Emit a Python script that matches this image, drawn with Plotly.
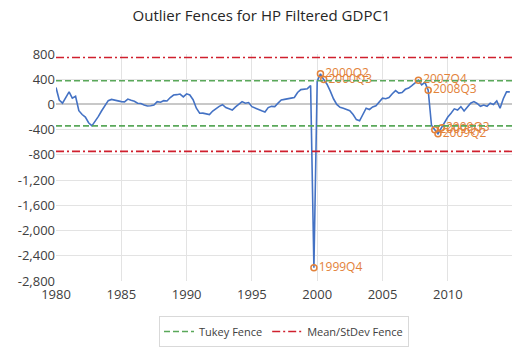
import pandas as pd
import plotly.graph_objects as go

# ---- data ----
start_quarter = "1980Q1"
end_quarter = "2014Q4"
hp_gap = [
    270, 70, 20, 110,          # 1980
    200, 100, 130, -100,       # 1981
    -160, -200, -290, -340,    # 1982
    -270, -190, -100, -20,     # 1983
    60, 80, 65, 55,            # 1984
    45, 40, 85, 65,            # 1985
    50, 20, 15, -10,           # 1986
    -25, -20, -10, 45,         # 1987
    35, 60, 55, 110,           # 1988
    150, 155, 165, 120,        # 1989
    168, 150, 75, -60,         # 1990
    -140, -138, -150, -160,    # 1991
    -105, -65, -30, -5,        # 1992
    -50, -70, -90, -40,        # 1993
    10, 45, 20, 30,            # 1994
    -35, -60, -80, -100,       # 1995
    -120, -50, -30, -35,       # 1996
    20, 70, 80, 85,            # 1997
    100, 110, 190, 235,        # 1998
    245, 250, 300, -2590,      # 1999
    370, 486, 395, 320,        # 2000
    210, 90, 0, -45,           # 2001
    -60, -75, -100, -160,      # 2002
    -240, -260, -160, -60,     # 2003
    -80, -40, -20, 40,         # 2004
    100, 90, 110, 170,         # 2005
    220, 180, 190, 240,        # 2006
    260, 300, 340, 385,        # 2007
    310, 350, 225, -330,       # 2008
    -400, -465, -375, -280,    # 2009
    -200, -140, -70, -90,      # 2010
    -35, -105, -50, 20,        # 2011
    45, 15, -30, -10,          # 2012
    -30, 20, 0, 57,            # 2013
    -60, 90, 200, 200,         # 2014
]
outlier_labels = ["1999Q4", "2000Q2", "2000Q3", "2007Q4", "2008Q3",
                  "2009Q1", "2009Q2", "2009Q3"]
tukey_fence = [375, -340]
mean_sd_fence = [745, -745]
y_tick_vals = [800, 400, 0, -400, -800, -1200, -1600, -2000, -2400, -2800]
y_tick_text = ["800", "400", "0", "-400", "-800", "-1,200", "-1,600",
               "-2,000", "-2,400", "-2,800"]
x_tick_years = [1980, 1985, 1990, 1995, 2000, 2005, 2010]

# ---- build ----
periods = pd.period_range(start_quarter, end_quarter, freq="Q")
labels = [f"{p.year}Q{p.quarter}" for p in periods]
dates = [p.start_time for p in periods]
lookup = dict(zip(labels, zip(dates, hp_gap)))

x_lo = pd.Timestamp("1980-01-01")
x_hi = pd.Timestamp("2014-12-01")

font_family = "Open Sans, Liberation Sans, sans-serif"
fig = go.Figure()

fig.add_trace(go.Scatter(x=dates, y=hp_gap, mode="lines",
                         line=dict(color="#4472C4", width=1.6),
                         showlegend=False, hoverinfo="skip"))

fig.add_trace(go.Scatter(
    x=[lookup[l][0] for l in outlier_labels],
    y=[lookup[l][1] for l in outlier_labels],
    mode="markers+text", text=outlier_labels, textposition="middle right",
    textfont=dict(color="#E3823A", size=12, family=font_family),
    marker=dict(symbol="circle-open", size=6, color="#E3823A",
                line=dict(width=1.5)),
    showlegend=False, hoverinfo="skip"))

for i, v in enumerate(tukey_fence):
    fig.add_trace(go.Scatter(x=[x_lo, x_hi], y=[v, v], mode="lines",
                             line=dict(color="#5AA85A", width=1.6, dash="6px,3px"),
                             name="Tukey Fence", legendgroup="tukey",
                             showlegend=(i == 0), hoverinfo="skip"))
for i, v in enumerate(mean_sd_fence):
    fig.add_trace(go.Scatter(x=[x_lo, x_hi], y=[v, v], mode="lines",
                             line=dict(color="#D0202E", width=1.6, dash="8px,3px,2px,3px"),
                             name="Mean/StDev Fence", legendgroup="msd",
                             showlegend=(i == 0), hoverinfo="skip"))

fig.update_layout(
    width=523, height=356,
    margin=dict(l=56, r=11, t=54, b=75),
    paper_bgcolor="white", plot_bgcolor="white",
    font=dict(family=font_family, color="#404040", size=12),
    title=dict(text="Outlier Fences for HP Filtered GDPC1",
               x=0.5, xanchor="center", y=1 - 16 / 356, yanchor="middle",
               font=dict(size=15, color="#262626", family=font_family)),
    legend=dict(orientation="h", x=0.5, xanchor="center",
                yref="container", y=1 - 316 / 356, yanchor="top",
                bordercolor="#D9D9D9", borderwidth=1,
                font=dict(size=11, color="#404040"),
                itemwidth=30),
    xaxis=dict(type="date", range=[x_lo, x_hi],
               tickvals=[pd.Timestamp(f"{y}-01-01") for y in x_tick_years],
               ticktext=[str(y) for y in x_tick_years],
               showgrid=True, gridcolor="#E3E3E3", gridwidth=1,
               showline=False, zeroline=False, ticks="",
               ticklabelstandoff=4,
               tickfont=dict(size=13, color="#404040")),
    yaxis=dict(range=[-2800, 800], tickvals=y_tick_vals, ticktext=y_tick_text,
               showgrid=True, gridcolor="#E3E3E3", gridwidth=1,
               zeroline=True, zerolinecolor="#C8C8C8", zerolinewidth=1.5,
               showline=False, ticks="",
               tickfont=dict(size=13, color="#404040")),
)

fig.write_html("out.html", config={"displayModeBar": False},
               post_script="document.body.style.margin='0';document.body.style.overflow='hidden';")
